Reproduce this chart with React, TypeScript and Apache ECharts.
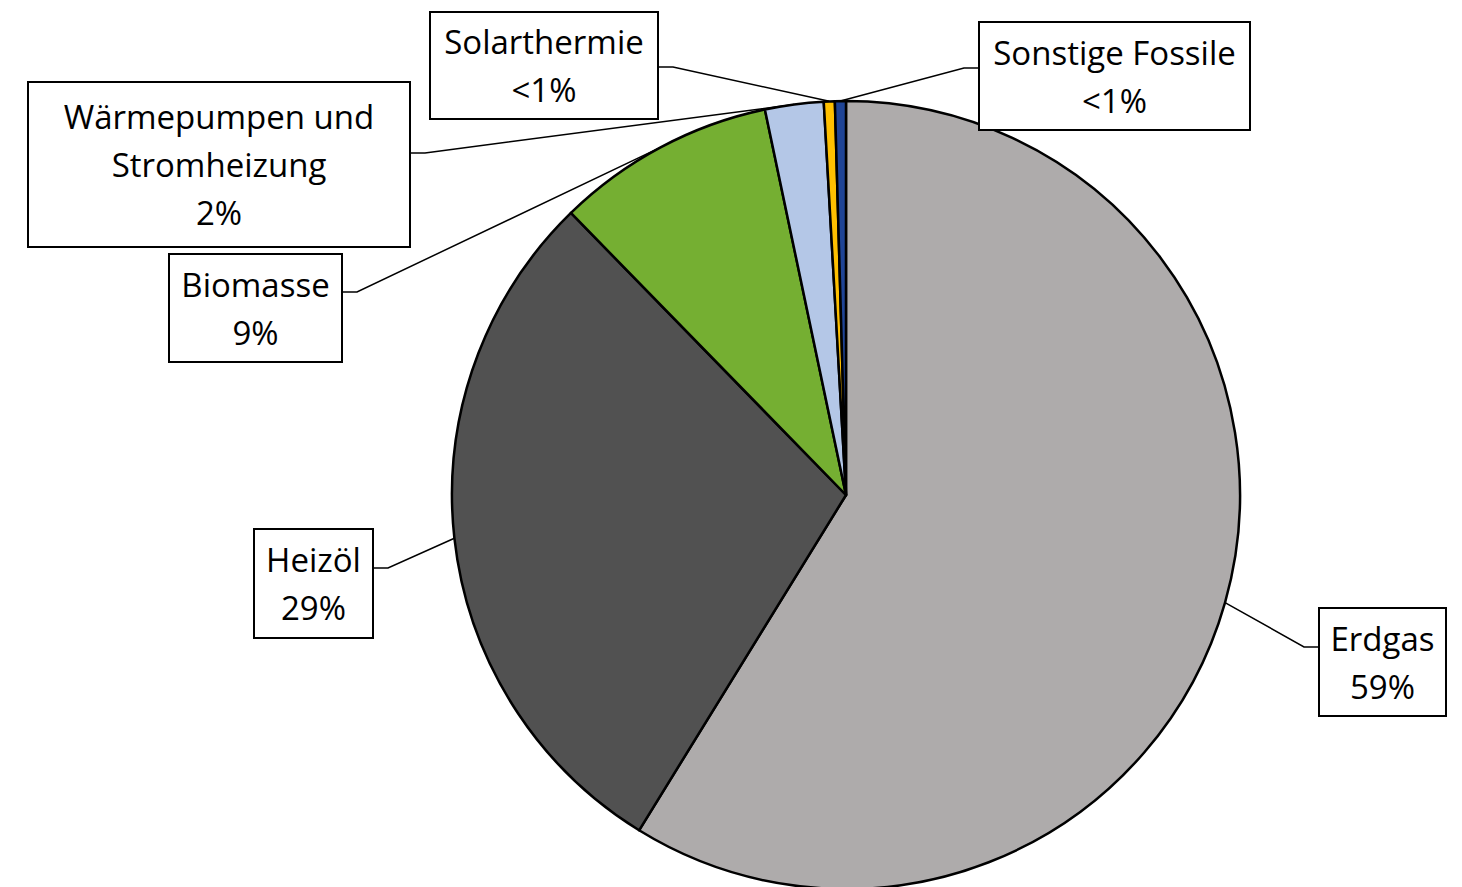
import React, { useEffect, useRef } from "react";
import * as echarts from "echarts";

const categories = [
  "Erdgas",
  "Heizöl",
  "Biomasse",
  "Wärmepumpen und Stromheizung",
  "Solarthermie",
  "Sonstige Fossile",
];
const labelNames = [
  "Erdgas",
  "Heizöl",
  "Biomasse",
  "Wärmepumpen und\nStromheizung",
  "Solarthermie",
  "Sonstige Fossile",
];
const values = [58.8, 28.9, 9.0, 2.4, 0.45, 0.45];
const percentLabels = ["59%", "29%", "9%", "2%", "<1%", "<1%"];
const colors = ["#AEABAB", "#515151", "#75AF32", "#B4C7E7", "#FFC000", "#1F4496"];

// label box layout (page px): left, top, right, bottom, leader attach y
const labelBoxes: number[][] = [
  [1319, 609, 1446, 715, 647],
  [254, 530, 373, 637, 568],
  [169, 255, 342, 361, 292],
  [28, 83, 410, 246, 153],
  [430, 13, 658, 118, 67],
  [979, 23, 1250, 129, 68],
];

const PIE_CENTER = [846, 495];
const PIE_RADIUS = 394;
const LINE_HEIGHT = 48;

export default function App() {
  const ref = useRef<HTMLDivElement>(null);

  useEffect(() => {
    if (!ref.current) return;
    const chart = echarts.init(ref.current, undefined, { renderer: "svg" });

    const data = categories.map((name, i) => {
      const [l, t, r, b] = labelBoxes[i];
      const lines = labelNames[i].split("\n").length + 1;
      const w = r - l;
      const h = b - t;
      const padV = Math.max(0, (h - lines * LINE_HEIGHT) / 2);
      return {
        name,
        value: values[i],
        itemStyle: { color: colors[i] },
        label: {
          width: w - 2,
          padding: [padV, 0, padV, 0],
        },
      };
    });

    chart.setOption({
      animation: false,
      backgroundColor: "#ffffff",
      series: [
        {
          type: "pie",
          center: PIE_CENTER,
          radius: PIE_RADIUS,
          startAngle: 90,
          clockwise: true,
          avoidLabelOverlap: false,
          data,
          itemStyle: { borderColor: "#000000", borderWidth: 2.5 },
          emphasis: { disabled: true },
          label: {
            show: true,
            position: "outside",
            formatter: (p: any) =>
              labelNames[p.dataIndex] + "\n" + percentLabels[p.dataIndex],
            fontFamily: "'Open Sans', 'Noto Sans', sans-serif",
            fontSize: 33,
            lineHeight: LINE_HEIGHT,
            color: "#000000",
            align: "center",
            backgroundColor: "#ffffff",
            borderColor: "#000000",
            borderWidth: 2,
          },
          labelLine: {
            show: true,
            length: 10,
            length2: 10,
            lineStyle: { color: "#000000", width: 1.5 },
          },
          labelLayout: (params: any) => {
            const i = params.dataIndex;
            const [l, t, r, b, ay] = labelBoxes[i];
            const cx = (l + r) / 2;
            const cy = (t + b) / 2;
            const onLeft = r < PIE_CENTER[0];
            const attachX = onLeft ? r : l;
            const elbowX = onLeft ? r + 15 : l - 15;
            const p0 = params.labelLinePoints
              ? params.labelLinePoints[0]
              : [cx, cy];
            return {
              x: cx,
              y: cy,
              align: "center",
              verticalAlign: "middle",
              labelLinePoints: [p0, [elbowX, ay], [attachX, ay]],
            };
          },
        },
      ],
    });

    return () => chart.dispose();
  }, []);

  return (
    <div
      ref={ref}
      style={{ position: "fixed", left: 0, top: 0, width: 1462, height: 887 }}
    />
  );
}
